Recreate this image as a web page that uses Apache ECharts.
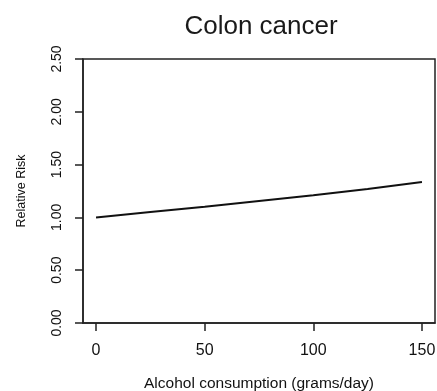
<!DOCTYPE html>
<html>
<head>
<meta charset="utf-8">
<script src="https://cdn.jsdelivr.net/npm/echarts@6/dist/echarts.min.js"></script>
<style>html,body{margin:0;padding:0;background:#fff}#c{width:437px;height:391px}</style>
</head>
<body>
<div id="c"></div>
<script>
var titleText = 'Colon cancer';
var xName = 'Alcohol consumption (grams/day)';
var yName = 'Relative Risk';
var alcohol = [0, 25, 50, 75, 100, 125, 150];
var relativeRisk = [1.00, 1.05, 1.10, 1.155, 1.21, 1.27, 1.335];
var xTicks = [0, 50, 100, 150];
var yTicks = [0, 0.5, 1.0, 1.5, 2.0, 2.5];

var chart = echarts.init(document.getElementById('c'), null, {renderer: 'canvas'});
var font = 'Liberation Sans, Arial, sans-serif';
chart.setOption({
  animation: false,
  title: {
    text: titleText, left: 256, top: 9, textAlign: 'center',
    textStyle: {fontFamily: font, fontSize: 26, fontWeight: 'normal', color: '#1a1a1a'}
  },
  grid: {left: 83, top: 59, width: 352, height: 264, show: true, borderColor: '#222', borderWidth: 1.5,
    containLabel: false, outerBoundsMode: 'none'},
  xAxis: {
    type: 'value', min: -6, max: 156,
    name: xName, nameLocation: 'middle', nameGap: 53,
    nameTextStyle: {fontFamily: font, fontSize: 15.5, color: '#111'},
    axisLine: {show: true, onZero: false, lineStyle: {color: '#222', width: 1.5}},
    axisTick: {show: true, length: 8, inside: false, customValues: xTicks, lineStyle: {color: '#222', width: 1.5}},
    axisLabel: {customValues: xTicks, margin: 20, fontFamily: font, fontSize: 16, color: '#111'},
    splitLine: {show: false}
  },
  yAxis: {
    type: 'value', min: 0, max: 2.5, interval: 0.5,
    name: yName, nameLocation: 'middle', nameGap: 55, nameRotate: 90,
    nameTextStyle: {fontFamily: font, fontSize: 12.5, color: '#111'},
    axisLine: {show: true, onZero: false, lineStyle: {color: '#222', width: 1.5}},
    axisTick: {show: true, length: 8, customValues: yTicks, lineStyle: {color: '#222', width: 1.5}},
    axisLabel: {customValues: yTicks, rotate: 90, margin: 19, fontFamily: font, fontSize: 14, color: '#111',
      formatter: function (v) { return v.toFixed(2); }},
    splitLine: {show: false}
  },
  series: [{
    type: 'line', data: alcohol.map(function (x, i) { return [x, relativeRisk[i]]; }),
    showSymbol: false, smooth: false,
    lineStyle: {color: '#111', width: 2}
  }]
});
</script>
</body>
</html>
